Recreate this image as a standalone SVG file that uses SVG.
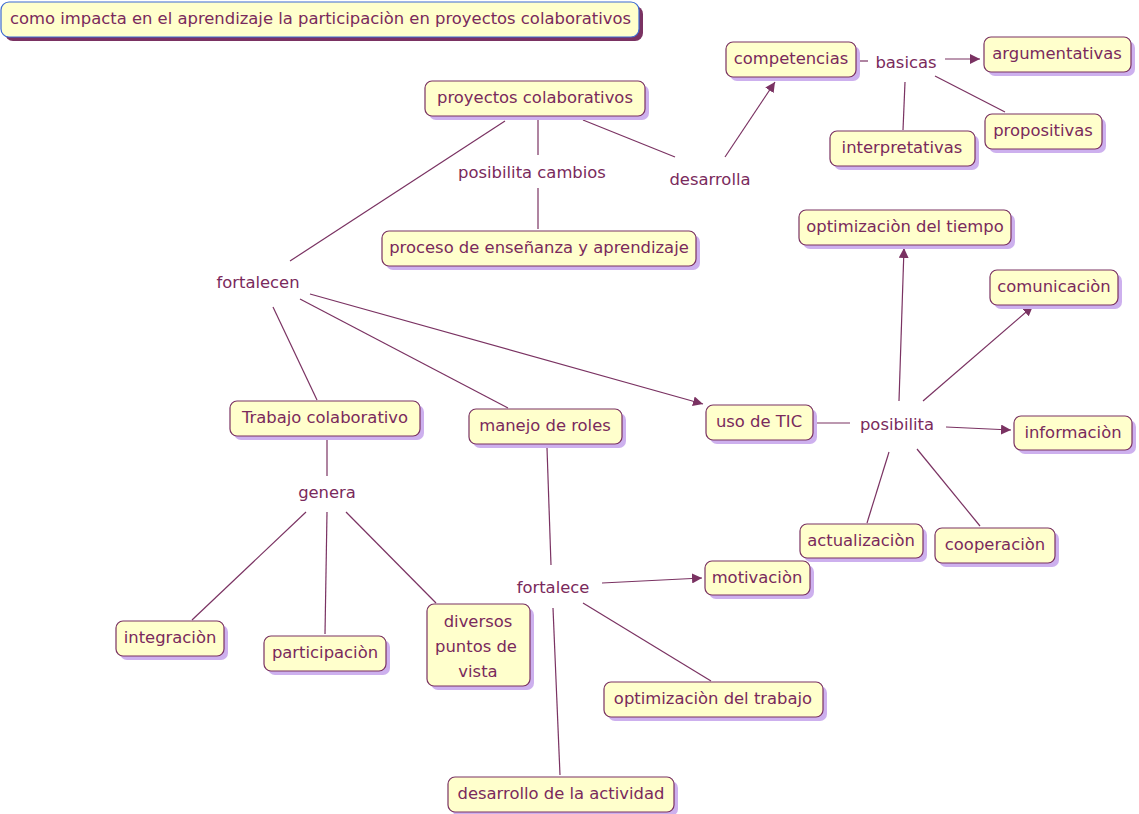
<svg xmlns="http://www.w3.org/2000/svg" width="1139" height="814" viewBox="0 0 1139 814">
<style>
.sh{fill:#cdb0ee;}
.bx{fill:#ffffcc;stroke:#7a3262;stroke-width:1.2;}
.t{font-family:"DejaVu Sans","Liberation Sans",sans-serif;font-size:16.4px;fill:#7a2a5c;text-anchor:middle;}
.lb{font-family:"DejaVu Sans","Liberation Sans",sans-serif;font-size:16.4px;fill:#7a2a5c;text-anchor:middle;}
.c{stroke:#7a3262;stroke-width:1.2;fill:none;}
.a{marker-end:url(#ah);}
</style>
<defs>
<marker id="ah" viewBox="0 0 10 10" refX="10" refY="5" markerWidth="10" markerHeight="10" markerUnits="userSpaceOnUse" orient="auto">
<path d="M0,0 L10,5 L0,10 z" fill="#7a3262"/>
</marker>
</defs>
<rect width="1139" height="814" fill="#ffffff"/>
<g id="connectors">
<line class="c" x1="505" y1="121" x2="290" y2="261"/>
<line class="c" x1="538" y1="120" x2="538" y2="155"/>
<line class="c" x1="538" y1="188" x2="538" y2="229"/>
<line class="c" x1="583" y1="120" x2="675" y2="157"/>
<line class="c a" x1="725" y1="157" x2="775" y2="82"/>
<line class="c" x1="858" y1="61" x2="868" y2="61"/>
<line class="c a" x1="945" y1="59" x2="980" y2="59"/>
<line class="c" x1="905" y1="82" x2="903" y2="130"/>
<line class="c" x1="935" y1="76" x2="1005" y2="112"/>
<line class="c" x1="273" y1="307" x2="317" y2="400"/>
<line class="c" x1="300" y1="299" x2="508" y2="408"/>
<line class="c a" x1="310" y1="294" x2="703" y2="404"/>
<line class="c" x1="815" y1="423" x2="850" y2="423"/>
<line class="c a" x1="899" y1="401" x2="904" y2="248"/>
<line class="c a" x1="923" y1="401" x2="1033" y2="306"/>
<line class="c a" x1="946" y1="427" x2="1011" y2="430"/>
<line class="c" x1="889" y1="452" x2="867" y2="523"/>
<line class="c" x1="917" y1="449" x2="980" y2="526"/>
<line class="c" x1="327" y1="440" x2="327" y2="476"/>
<line class="c" x1="306" y1="512" x2="192" y2="620"/>
<line class="c" x1="327" y1="512" x2="325" y2="634"/>
<line class="c" x1="346" y1="512" x2="436" y2="603"/>
<line class="c" x1="547" y1="448" x2="551" y2="565"/>
<line class="c a" x1="602" y1="583" x2="702" y2="578"/>
<line class="c" x1="583" y1="603" x2="711" y2="681"/>
<line class="c" x1="553" y1="608" x2="560" y2="775"/>
</g>
<g id="labels">
<text class="lb" x="532" y="178">posibilita cambios</text>
<text class="lb" x="710" y="185">desarrolla</text>
<text class="lb" x="906" y="68">basicas</text>
<text class="lb" x="258" y="288">fortalecen</text>
<text class="lb" x="897" y="430">posibilita</text>
<text class="lb" x="327" y="498">genera</text>
<text class="lb" x="553" y="593">fortalece</text>
</g>
<g id="title">
<rect x="5" y="6" width="638" height="35" rx="8" fill="#7a3262"/>
<rect x="1" y="2" width="638" height="35" rx="8" fill="#ffffcc" stroke="#3d6bd3" stroke-width="1.2"/>
<text class="t" x="10" y="24" style="text-anchor:start">como impacta en el aprendizaje la participaciòn en proyectos colaborativos</text>
</g>
<g id="n-competencias"><rect class="sh" x="730" y="46" width="130" height="35" rx="7"/><rect class="bx" x="726" y="42" width="130" height="35" rx="7"/><text class="t" x="791" y="64">competencias</text></g>
<g id="n-argumentativas"><rect class="sh" x="988" y="41" width="147" height="35" rx="7"/><rect class="bx" x="984" y="37" width="147" height="35" rx="7"/><text class="t" x="1057" y="59">argumentativas</text></g>
<g id="n-interpretativas"><rect class="sh" x="834" y="135" width="145" height="35" rx="7"/><rect class="bx" x="830" y="131" width="145" height="35" rx="7"/><text class="t" x="902" y="153">interpretativas</text></g>
<g id="n-propositivas"><rect class="sh" x="989" y="118" width="117" height="35" rx="7"/><rect class="bx" x="985" y="114" width="117" height="35" rx="7"/><text class="t" x="1043" y="136">propositivas</text></g>
<g id="n-proyectos"><rect class="sh" x="429" y="85" width="220" height="35" rx="7"/><rect class="bx" x="425" y="81" width="220" height="35" rx="7"/><text class="t" x="535" y="103">proyectos colaborativos</text></g>
<g id="n-proceso"><rect class="sh" x="386" y="235" width="314" height="35" rx="7"/><rect class="bx" x="382" y="231" width="314" height="35" rx="7"/><text class="t" x="539" y="253">proceso de enseñanza y aprendizaje</text></g>
<g id="n-optiempo"><rect class="sh" x="803" y="214" width="212" height="35" rx="7"/><rect class="bx" x="799" y="210" width="212" height="35" rx="7"/><text class="t" x="905" y="232">optimizaciòn del tiempo</text></g>
<g id="n-comunicacion"><rect class="sh" x="994" y="274" width="128" height="35" rx="7"/><rect class="bx" x="990" y="270" width="128" height="35" rx="7"/><text class="t" x="1054" y="292">comunicaciòn</text></g>
<g id="n-trabajo"><rect class="sh" x="234" y="405" width="190" height="35" rx="7"/><rect class="bx" x="230" y="401" width="190" height="35" rx="7"/><text class="t" x="325" y="423">Trabajo colaborativo</text></g>
<g id="n-manejo"><rect class="sh" x="473" y="413" width="153" height="35" rx="7"/><rect class="bx" x="469" y="409" width="153" height="35" rx="7"/><text class="t" x="545" y="431">manejo de roles</text></g>
<g id="n-tic"><rect class="sh" x="710" y="409" width="107" height="35" rx="7"/><rect class="bx" x="706" y="405" width="107" height="35" rx="7"/><text class="t" x="759" y="427">uso de TIC</text></g>
<g id="n-informacion"><rect class="sh" x="1018" y="420" width="118" height="34" rx="7"/><rect class="bx" x="1014" y="416" width="118" height="34" rx="7"/><text class="t" x="1073" y="438">informaciòn</text></g>
<g id="n-actualizacion"><rect class="sh" x="804" y="528" width="123" height="34" rx="7"/><rect class="bx" x="800" y="524" width="123" height="34" rx="7"/><text class="t" x="861" y="546">actualizaciòn</text></g>
<g id="n-cooperacion"><rect class="sh" x="939" y="532" width="120" height="35" rx="7"/><rect class="bx" x="935" y="528" width="120" height="35" rx="7"/><text class="t" x="995" y="550">cooperaciòn</text></g>
<g id="n-motivacion"><rect class="sh" x="709" y="565" width="105" height="34" rx="7"/><rect class="bx" x="705" y="561" width="105" height="34" rx="7"/><text class="t" x="757" y="583">motivaciòn</text></g>
<g id="n-integracion"><rect class="sh" x="120" y="625" width="108" height="35" rx="7"/><rect class="bx" x="116" y="621" width="108" height="35" rx="7"/><text class="t" x="170" y="643">integraciòn</text></g>
<g id="n-participacion"><rect class="sh" x="268" y="640" width="122" height="35" rx="7"/><rect class="bx" x="264" y="636" width="122" height="35" rx="7"/><text class="t" x="325" y="658">participaciòn</text></g>
<g id="n-diversos"><rect class="sh" x="431" y="608" width="103" height="82" rx="7"/><rect class="bx" x="427" y="604" width="103" height="82" rx="7"/><text class="t" x="478" y="627">diversos</text><text class="t" x="476" y="652">puntos de</text><text class="t" x="478" y="677">vista</text></g>
<g id="n-optrabajo"><rect class="sh" x="608" y="686" width="219" height="35" rx="7"/><rect class="bx" x="604" y="682" width="219" height="35" rx="7"/><text class="t" x="713" y="704">optimizaciòn del trabajo</text></g>
<g id="n-desarrollo"><rect class="sh" x="452" y="781" width="226" height="35" rx="7"/><rect class="bx" x="448" y="777" width="226" height="35" rx="7"/><text class="t" x="561" y="799">desarrollo de la actividad</text></g>
</svg>
